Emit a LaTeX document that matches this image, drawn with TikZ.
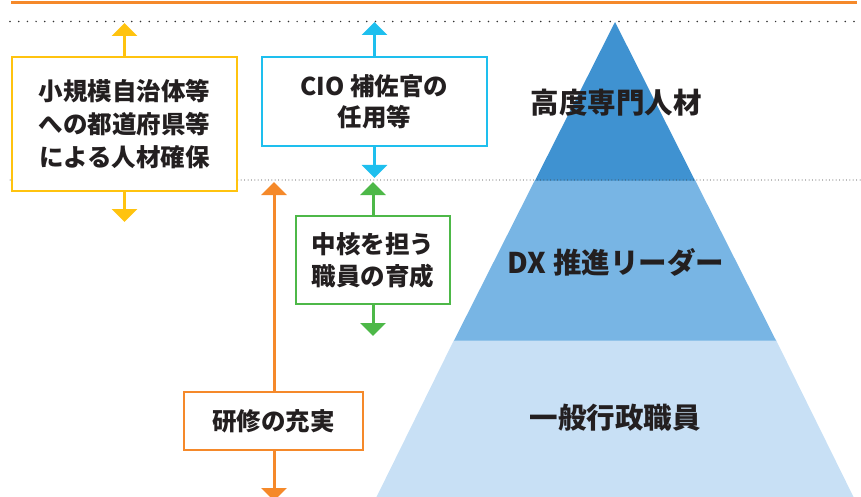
\documentclass[tikz,border=0pt]{standalone}
\usepackage{fontspec}
\setmainfont{Noto Sans CJK JP}
\usetikzlibrary{arrows.meta}
\definecolor{cOrange}{HTML}{F5892A}
\definecolor{cYellow}{HTML}{FFC30F}
\definecolor{cCyan}{HTML}{1EBFEE}
\definecolor{cGreen}{HTML}{4DB848}
\definecolor{cTop}{HTML}{3F92D1}
\definecolor{cMid}{HTML}{78B5E4}
\definecolor{cBot}{HTML}{C8E0F5}
\definecolor{cText}{HTML}{231F20}
\tikzset{
  boxstyle/.style={draw, line width=2pt, fill=white, inner sep=0pt, align=center,
    text=cText, font=\fontsize{24.5}{33}\selectfont\bfseries},
  arr/.style={line width=3pt, -{Triangle[width=25pt,length=13pt]}},
  lvl/.style={text=cText, font=\fontsize{28.5}{32}\selectfont\bfseries, inner sep=0pt},
  dotbig/.style={line width=1.7pt, line cap=round, dash pattern=on 0pt off 8.7pt, black!80},
  dotsmall/.style={line width=1pt, line cap=round, dash pattern=on 0pt off 3.4pt, black!75},
}
\begin{document}
\begin{tikzpicture}[x=1pt,y=-1pt]
\useasboundingbox (0,0) rectangle (861,497);
\clip (0,0) rectangle (861,497);
% top orange rule
\draw[cOrange, line width=2.2pt] (11,2.5) -- (857,2.5);
% pyramid
\fill[cBot] (375,500) -- (454,340) -- (776,340) -- (855,500) -- cycle;
\fill[cMid] (454,340.5) -- (535,180) -- (695,180) -- (776,340.5) -- cycle;
\fill[cTop] (535,180.5) -- (615,22) -- (695,180.5) -- cycle;
% dotted lines
\draw[dotbig] (10,21.5) -- (860,21.5);
\draw[dotsmall] (10,180) -- (860,180);
% level labels
\node[lvl] (l1) at (616,103) {高度専門人材};
\node[lvl] (l2) at (616,262) {DX 推進リーダー};
\node[lvl] (l3) at (615,418) {一般行政職員};
% boxes
\node[boxstyle, draw=cYellow, minimum width=225pt, minimum height=134pt] (yb) at (124.5,124)
  {小規模自治体等\\への都道府県等\\による人材確保};
\node[boxstyle, draw=cCyan, minimum width=225pt, minimum height=89pt, font=\fontsize{24.5}{31}\selectfont\bfseries] (cb) at (374.5,101.5)
  {CIO 補佐官の\\任用等};
\node[boxstyle, draw=cGreen, minimum width=154pt, minimum height=88pt, font=\fontsize{24.5}{32}\selectfont\bfseries] (gb) at (373,260)
  {中核を担う\\職員の育成};
\node[boxstyle, draw=cOrange, minimum width=179pt, minimum height=58pt] (ob) at (273.5,421)
  {研修の充実};
% arrow end points
\coordinate (yu) at (124.5,23);
\coordinate (yd) at (124.5,222);
\coordinate (cu) at (374.5,22);
\coordinate (cd) at (374.5,178);
\coordinate (gu) at (373,182);
\coordinate (gd) at (373,336);
\coordinate (ou) at (274,182);
\coordinate (od) at (274,501);
% arrows
\draw[arr, cYellow] (yb.north) -- (yu);
\draw[arr, cYellow] (yb.south) -- (yd);
\draw[arr, cCyan] (cb.north) -- (cu);
\draw[arr, cCyan] (cb.south) -- (cd);
\draw[arr, cGreen] (gb.north) -- (gu);
\draw[arr, cGreen] (gb.south) -- (gd);
\draw[arr, cOrange] (ob.north -| ou) -- (ou);
\draw[arr, cOrange] (ob.south -| od) -- (od);
\end{tikzpicture}
\end{document}
